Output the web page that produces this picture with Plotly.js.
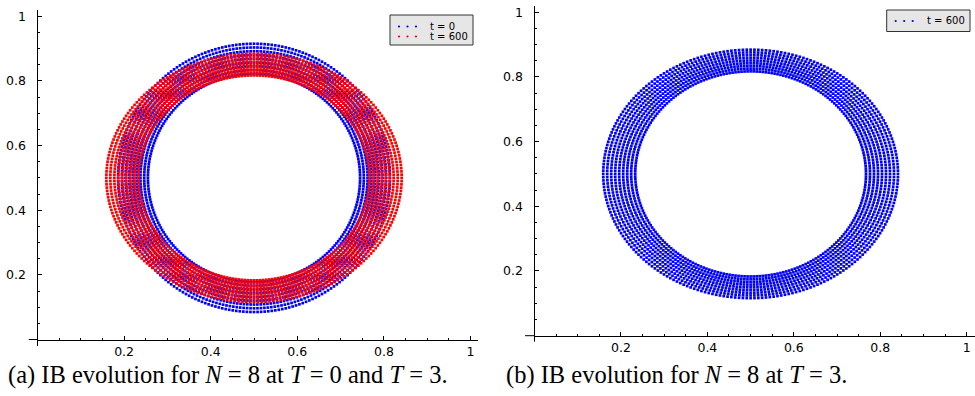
<!DOCTYPE html>
<html>
<head>
<meta charset="utf-8">
<script src="https://cdn.plot.ly/plotly-3.0.1.min.js"></script>
<style>html,body{margin:0;padding:0;background:#fff;}#chart{width:975px;height:396px;}</style>
</head>
<body>
<div id="chart"></div>
<script>
// ---- data ----
const centerX = 0.5;
const centerY = 0.5;
const pointsPerLayer = 240;
// fibre layers of the immersed boundary (semi-axes of each layer)
const t0SemiX   = [0.245, 0.2536, 0.2623, 0.2709, 0.2795, 0.2881, 0.2968, 0.3054, 0.314];
const t0SemiY   = [0.322, 0.3336, 0.3453, 0.3569, 0.3685, 0.3801, 0.3918, 0.4034, 0.415];
const t600SemiX = [0.267, 0.2763, 0.2855, 0.2948, 0.304, 0.3133, 0.3225, 0.3318, 0.341];
const t600SemiY = [0.317, 0.3254, 0.3338, 0.3421, 0.3505, 0.3589, 0.3673, 0.3756, 0.384];
const seriesNames = ["t = 0", "t = 600"];
const tickVals = [0.2, 0.4, 0.6, 0.8, 1];
const tickText = ["0.2", "0.4", "0.6", "0.8", "1"];
const captionA = "(a) IB evolution for <i>N</i> = 8 at <i>T</i> = 0 and <i>T</i> = 3.";
const captionB = "(b) IB evolution for <i>N</i> = 8 at <i>T</i> = 3.";

function ring(semiX, semiY) {
  const xs = [], ys = [];
  for (let l = 0; l < semiX.length; l++) {
    for (let k = 0; k < pointsPerLayer; k++) {
      const th = 2 * Math.PI * k / pointsPerLayer;
      xs.push(centerX + semiX[l] * Math.cos(th));
      ys.push(centerY + semiY[l] * Math.sin(th));
    }
  }
  return {x: xs, y: ys};
}
const r0 = ring(t0SemiX, t0SemiY);
const r600 = ring(t600SemiX, t600SemiY);

const minorVals = [];
for (let i = 1; i <= 20; i++) { if (i % 4 !== 0) minorVals.push(i * 0.05); }

const BLUE = '#0000ff', RED = '#ff0000';
const mk = (c) => ({color: c, size: 2.7, symbol: 'square', line: {width: 0}});
const traces = [
  {type: 'scatter', mode: 'markers', name: seriesNames[0], x: r0.x, y: r0.y, xaxis: 'x', yaxis: 'y', marker: mk(BLUE), showlegend: false, hoverinfo: 'skip', cliponaxis: false},
  {type: 'scatter', mode: 'markers', name: seriesNames[1], x: r600.x, y: r600.y, xaxis: 'x', yaxis: 'y', marker: mk(RED), showlegend: false, hoverinfo: 'skip', cliponaxis: false},
  {type: 'scatter', mode: 'markers', name: seriesNames[1], x: r600.x, y: r600.y, xaxis: 'x2', yaxis: 'y2', marker: mk(BLUE), showlegend: false, hoverinfo: 'skip', cliponaxis: false}
];

const FAMILY = 'DejaVu Sans';
function axis(domain, range, anchor, standoff) {
  return {
    domain: domain, range: range, anchor: anchor,
    showline: true, linecolor: '#000', linewidth: 1, mirror: false,
    showgrid: false, zeroline: false,
    tickmode: 'array', tickvals: tickVals, ticktext: tickText,
    ticks: 'inside', ticklen: 4, tickcolor: '#000', tickwidth: 1,
    ticklabelstandoff: standoff,
    tickfont: {family: FAMILY, size: 12.5, color: '#000'},
    minor: {tickmode: 'array', tickvals: minorVals, ticks: 'inside', ticklen: 2, tickcolor: '#000', tickwidth: 1},
    fixedrange: true
  };
}

const W = 975, H = 396;
const px = (v) => v / W, py = (v) => (H - v) / H;

const shapes = [];
const annotations = [];
// short axis stubs beyond the origin
function stub(x0, y0, x1, y1) {
  shapes.push({type: 'line', xref: 'paper', yref: 'paper', x0: px(x0), x1: px(x1), y0: py(y0), y1: py(y1), line: {color: '#000', width: 1}});
}
stub(28.8, 339.5, 37.5, 339.5);
stub(37.5, 339.5, 37.5, 346);
stub(525, 335.7, 534.5, 335.7);
stub(534.5, 335.7, 534.5, 341.7);

// hand-built legends (box, dotted samples, labels)
function legendBox(x0, y0, x1, y1) {
  shapes.push({type: 'rect', xref: 'paper', yref: 'paper', x0: px(x0), x1: px(x1), y0: py(y1), y1: py(y0),
    fillcolor: '#e6e6e6', line: {color: '#333', width: 1}, layer: 'above'});
}
function legendItem(dotXs, cy, color, label, tx) {
  dotXs.forEach(cx => shapes.push({type: 'circle', xref: 'paper', yref: 'paper',
    x0: px(cx - 1.1), x1: px(cx + 1.1), y0: py(cy + 1.1), y1: py(cy - 1.1),
    fillcolor: color, line: {width: 0}, layer: 'above'}));
  annotations.push({xref: 'paper', yref: 'paper', x: px(tx), y: py(cy), xanchor: 'left', yanchor: 'middle',
    showarrow: false, text: label, font: {family: FAMILY, size: 10, color: '#000'}});
}
legendBox(390, 15, 473, 45);
legendItem([399, 407.5, 416], 26.5, BLUE, seriesNames[0], 428);
legendItem([399, 407.5, 416], 36.5, RED, seriesNames[1], 428);
legendBox(886.7, 10, 970, 31.5);
legendItem([895.7, 904.2, 912.7], 21, BLUE, seriesNames[1], 924.5);

annotations.push({xref: 'paper', yref: 'paper', x: px(6), y: py(375), xanchor: 'left', yanchor: 'middle', showarrow: false, text: captionA, font: {family: 'Liberation Serif', size: 24.5, color: '#000'}});
annotations.push({xref: 'paper', yref: 'paper', x: px(504), y: py(375), xanchor: 'left', yanchor: 'middle', showarrow: false, text: captionB, font: {family: 'Liberation Serif', size: 24.5, color: '#000'}});

const layout = {
  width: W, height: H,
  font: {family: FAMILY, size: 12.5, color: '#000'},
  margin: {l: 0, r: 0, t: 0, b: 0},
  paper_bgcolor: '#fff', plot_bgcolor: 'rgba(0,0,0,0)',
  xaxis: axis([px(37.5), px(478.3)], [0, 1.018], 'y', 0),
  yaxis: axis([py(339.5), py(9.8)], [0, 1.02], 'x', 8),
  xaxis2: axis([px(534.5), 1], [0, 1.0192], 'y2', 0),
  yaxis2: axis([py(335.7), py(6)], [0, 1.019], 'x2', 8),
  shapes: shapes,
  annotations: annotations,
  showlegend: false
};
Plotly.newPlot('chart', traces, layout, {displayModeBar: false, staticPlot: true});
</script>
</body>
</html>
